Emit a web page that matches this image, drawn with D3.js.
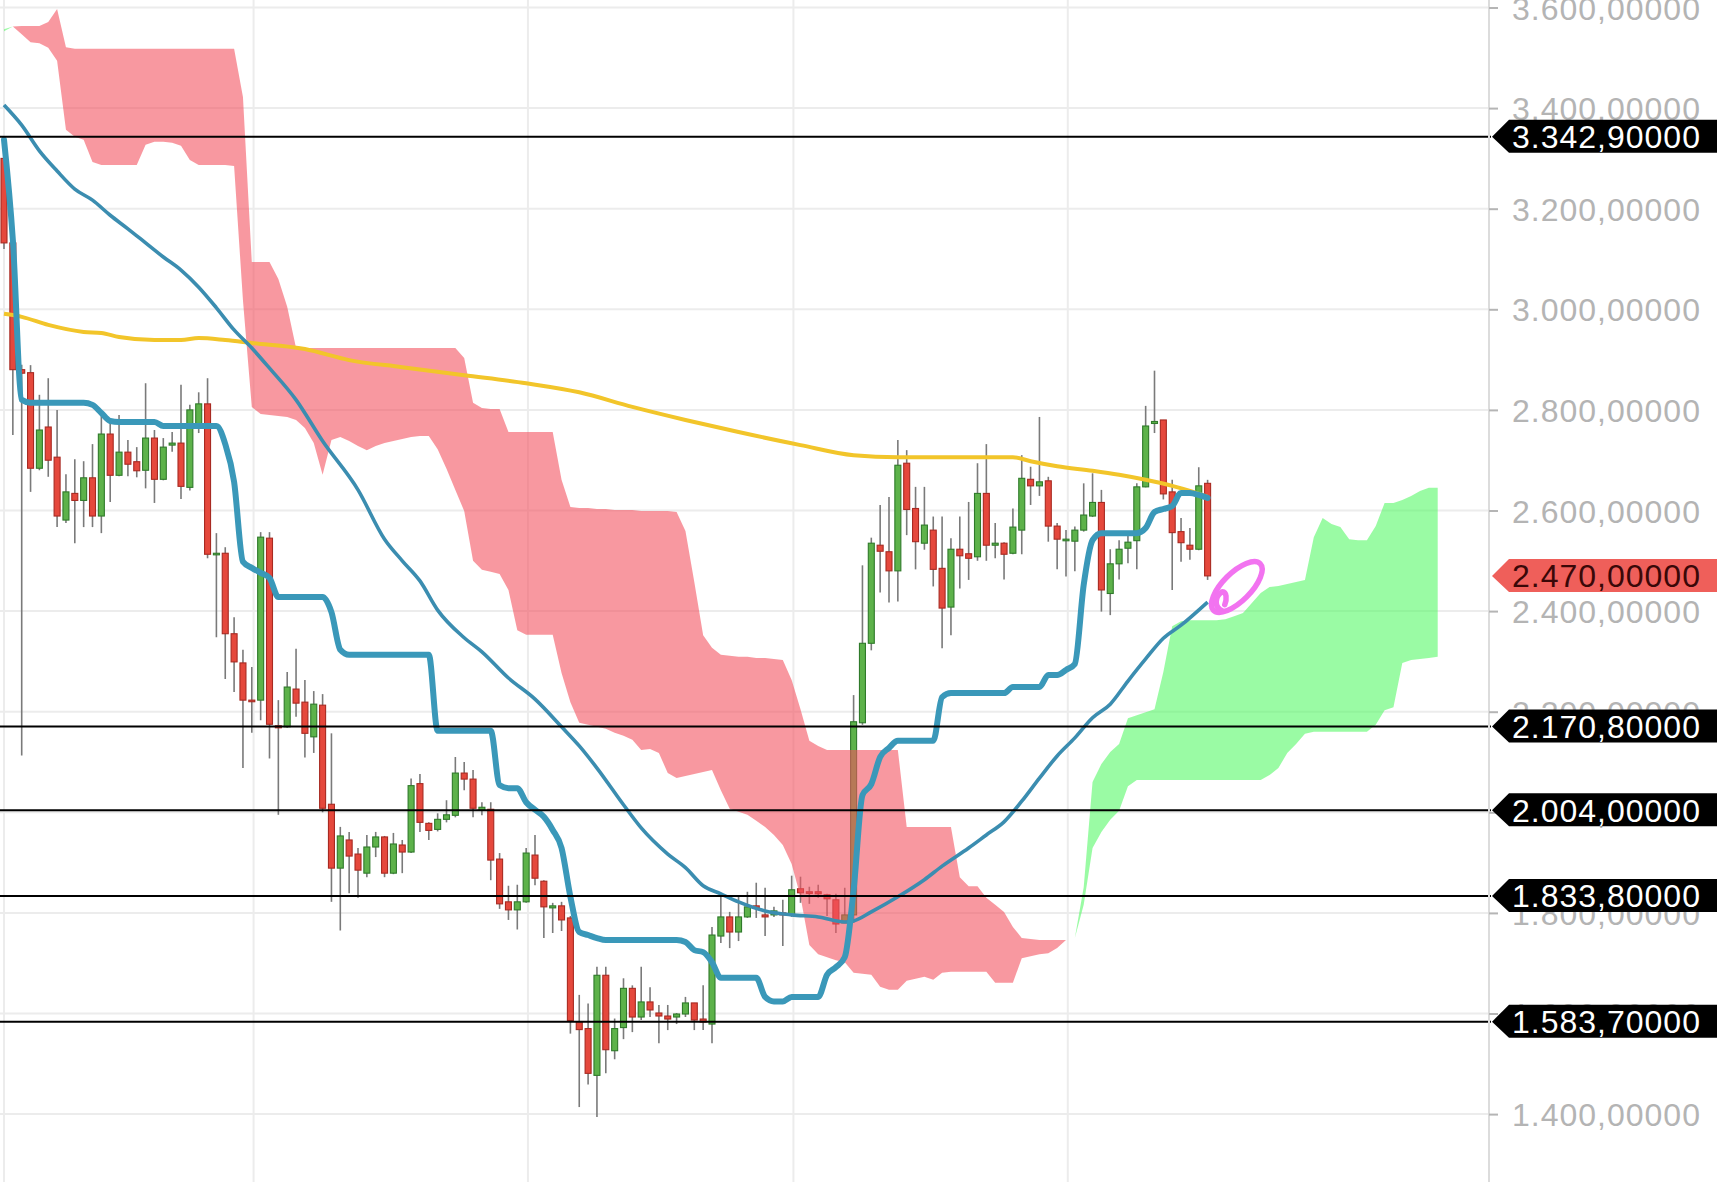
<!DOCTYPE html>
<html><head><meta charset="utf-8">
<script src="https://cdn.jsdelivr.net/npm/d3@7"></script>
<style>
html,body{margin:0;padding:0;background:#fff;}
svg{display:block;}
text{font-family:"Liberation Sans",Arial,Helvetica,sans-serif;}
</style></head><body>
<svg id="c" width="1717" height="1182"></svg>
<script>
// ---------- DATA (daily candles, index 0..136) ----------
const openPrices = [
3300,3132,2880,2874,2684,2766,2706,2581,2634,2620,
2665,2589,2752,2670,2716,2697,2680,2744,2662,2730,
2734,2646,2770,2812,2513,2515,2355,2297,2223,2223,
2545,2172,2170,2245,2219,2150,2213,2016,1889,1945,
1917,1879,1931,1951,1879,1935,1921,2057,1978,1966,
1986,1994,2078,2066,2004,2006,1907,1822,1806,1822,
1915,1863,1810,1814,1790,1584,1570,1477,1676,1526,
1572,1650,1593,1623,1601,1595,1593,1599,1621,1589,
1579,1754,1792,1762,1792,1814,1796,1796,1800,1796,
1848,1842,1842,1836,1826,1780,1796,2178,2336,2531,
2518,2480,2694,2604,2535,2561,2485,2408,2523,2514,
2508,2634,2531,2535,2515,2561,2662,2649,2659,2569,
2541,2539,2561,2589,2616,2435,2494,2525,2540,2647,
2773,2780,2637,2558,2531,2523,2654];
const highPrices = [
3343,3140,2890,2889,2830,2863,2800,2672,2702,2698,
2732,2790,2780,2790,2740,2726,2853,2760,2744,2756,
2850,2810,2835,2863,2555,2527,2388,2323,2289,2557,
2557,2223,2279,2325,2263,2241,2235,2157,1971,1961,
1929,1955,1961,1953,1959,1945,2067,2076,1980,1998,
2024,2110,2100,2084,2020,2020,1919,1854,1856,1929,
1955,1865,1820,1822,1794,1637,1620,1693,1693,1590,
1670,1656,1693,1652,1617,1617,1601,1633,1621,1656,
1772,1840,1802,1832,1842,1860,1850,1812,1826,1874,
1872,1852,1856,1838,1838,1850,2233,2491,2546,2611,
2627,2740,2720,2647,2647,2588,2588,2545,2588,2617,
2694,2732,2575,2537,2604,2710,2687,2786,2667,2575,
2561,2568,2654,2674,2641,2523,2541,2558,2654,2808,
2878,2780,2661,2585,2565,2686,2661];
const lowPrices = [
3120,2750,2113,2637,2680,2667,2567,2575,2535,2567,
2567,2555,2617,2668,2668,2666,2644,2615,2660,2717,
2623,2640,2754,2505,2348,2265,2239,2088,2158,2183,
2107,1995,2168,2190,2109,2118,2000,1822,1765,1839,
1830,1871,1911,1871,1877,1879,1919,1961,1945,1962,
1980,1990,2044,1990,1994,1865,1808,1786,1767,1820,
1855,1750,1760,1764,1560,1414,1459,1394,1481,1509,
1549,1563,1587,1593,1541,1567,1579,1593,1567,1567,
1541,1740,1730,1744,1790,1790,1754,1792,1734,1792,
1820,1818,1830,1794,1760,1780,1780,2174,2322,2437,
2417,2419,2551,2483,2522,2449,2326,2352,2445,2462,
2500,2500,2505,2463,2513,2513,2611,2629,2538,2483,
2469,2479,2558,2587,2399,2392,2463,2495,2483,2646,
2754,2622,2442,2498,2502,2521,2462];
const closePrices = [
3132,2880,2873,2684,2760,2700,2589,2637,2620,2665,
2589,2752,2670,2716,2692,2679,2744,2662,2726,2734,
2648,2800,2812,2513,2515,2355,2299,2223,2221,2547,
2175,2168,2249,2217,2157,2215,2008,1889,1953,1913,
1885,1931,1951,1879,1937,1921,2053,1980,1964,1986,
1995,2078,2066,2008,2010,1905,1818,1806,1822,1919,
1869,1812,1814,1786,1586,1568,1481,1676,1528,1570,
1650,1593,1623,1607,1595,1589,1599,1621,1587,1583,
1756,1792,1762,1792,1812,1810,1792,1804,1796,1846,
1840,1840,1838,1828,1778,1796,2180,2336,2535,2519,
2480,2690,2602,2538,2571,2483,2406,2523,2510,2505,
2634,2531,2535,2513,2567,2664,2649,2657,2569,2543,
2543,2561,2591,2616,2442,2494,2523,2537,2647,2768,
2777,2633,2556,2536,2523,2649,2470];

// Kijun-sen (thick blue), one value per candle
const kijun = [
3337,3138,2820,2814,2814,2814,2814,2814,2814,2814,
2810,2794,2778,2776,2776,2776,2776,2776,2768,2768,
2768,2768,2768,2768,2768,2732,2657,2498,2486,2476,
2466,2428,2428,2428,2428,2428,2428,2398,2323,2313,
2313,2313,2313,2313,2313,2313,2313,2313,2313,2162,
2162,2162,2162,2162,2162,2162,2054,2048,2048,2020,
2005,1991,1965,1929,1832,1762,1756,1750,1746,1746,
1746,1746,1746,1746,1746,1746,1746,1742,1726,1722,
1702,1671,1671,1671,1671,1671,1633,1624,1624,1633,
1633,1633,1633,1677,1692,1712,1845,2034,2056,2110,
2128,2142,2142,2142,2142,2142,2229,2237,2237,2237,
2237,2237,2237,2237,2249,2249,2249,2249,2273,2273,
2283,2295,2452,2541,2555,2555,2555,2555,2555,2565,
2597,2603,2609,2635,2635,2631,2625];

// Moving average (thin blue) read at [candle index, price]
const maFast = [[0,3406],[2,3366],[4,3315],[6,3275],[8,3239],[10,3217],[12,3187],[14,3160],[16,3132],[18,3104],
[20,3078],[22,3044],[24,3003],[26,2959],[28,2923],[30,2883],[33,2820],[36,2738],[40,2641],[43,2543],
[45,2500],[47,2460],[49,2402],[52,2347],[54,2319],[57,2267],[60,2225],[63,2170],[65,2132],[67,2088],
[70,2015],[72,1969],[75,1917],[77,1890],[79,1854],[81,1838],[83,1822],[86,1804],[89,1796],[92,1792],
[95,1782],[96,1784],[98,1802],[101,1832],[104,1866],[106,1893],[109,1929],[111,1955],[113,1981],[115,2022],
[117,2068],[119,2112],[121,2148],[123,2188],[125,2215],[127,2261],[129,2305],[131,2346],[133,2372],[136,2418]];

// Moving average (yellow) read at [candle index, price]
const maSlow = [[0,2991],[2,2985],[5,2969],[9,2955],[11,2953],[13,2945],[17,2939],[20,2939],[22,2943],[25,2939],
[28,2933],[34,2921],[39,2899],[45,2885],[52,2869],[59,2853],[65,2835],[71,2806],[77,2780],[83,2756],
[90,2730],[96,2710],[101,2706],[107,2706],[114,2706],[116,2698],[119,2688],[123,2679],[126,2671],[129,2661],
[132,2649],[134,2639],[136,2627]];

// Ichimoku cloud spans (index 0..162, shifted 26 ahead)
const spanA = [
3557,3562,3547,3531,3529,3520,3494,3357,3343,3337,
3293,3287,3287,3287,3287,3287,3327,3333,3333,3331,
3325,3297,3287,3287,3287,3287,3285,3018,2806,2792,
2790,2788,2786,2780,2764,2734,2671,2740,2746,2738,
2728,2720,2728,2734,2738,2742,2746,2748,2748,2722,
2683,2641,2599,2500,2482,2478,2474,2442,2362,2353,
2353,2353,2353,2277,2219,2178,2174,2170,2166,2158,
2152,2144,2124,2126,2118,2078,2068,2072,2076,2080,
2084,2044,2007,2001,1995,1983,1971,1955,1935,1897,
1832,1736,1718,1712,1706,1702,1681,1679,1677,1653,
1647,1647,1665,1669,1673,1667,1681,1683,1683,1683,
1683,1683,1661,1661,1661,1710,1714,1718,1720,1730,
1746,1750,1851,2060,2096,2120,2136,2187,2193,2199,
2205,2279,2370,2380,2382,2382,2382,2382,2384,2390,
2396,2416,2436,2448,2450,2454,2458,2462,2547,2585,
2573,2567,2543,2541,2541,2569,2615,2615,2621,2629,
2639,2645,2645];
const spanB = [
3553,3562,3563,3563,3563,3571,3597,3521,3518,3518,
3518,3518,3518,3518,3518,3518,3518,3518,3518,3518,
3518,3518,3518,3518,3518,3518,3518,3422,3094,3094,
3094,3060,3005,2923,2923,2923,2923,2923,2923,2923,
2923,2923,2923,2923,2923,2923,2923,2923,2923,2923,
2923,2923,2903,2814,2804,2802,2802,2756,2756,2756,
2756,2756,2756,2661,2607,2605,2605,2603,2603,2601,
2601,2601,2599,2599,2599,2599,2597,2559,2458,2352,
2327,2313,2311,2309,2309,2307,2307,2305,2303,2263,
2205,2142,2132,2124,2124,2124,2124,2124,2124,2124,
2124,2124,1971,1971,1971,1971,1971,1971,1871,1853,
1853,1830,1816,1802,1772,1750,1748,1746,1746,1746,
1746,1750,1816,1929,1961,1985,2003,2052,2064,2064,
2064,2064,2064,2064,2064,2064,2064,2064,2064,2064,
2064,2064,2064,2074,2088,2118,2136,2156,2160,2160,
2160,2160,2160,2160,2160,2174,2203,2209,2297,2303,
2305,2307,2309];

// Horizontal levels and axis ticks
const levels = [3342.9, 2170.8, 2004.0, 1833.8, 1583.7];
const priceTicks = [1400,1600,1800,2000,2200,2400,2600,2800,3000,3200,3400,3600];
const monthGridIdx = [0.0, 28.2, 59.2, 89.2, 120.2];
const noteAt = [139.3, 2448];

// ---------- DRAW ----------
const W = 1717, H = 1182, axisX = 1489;
const svg = d3.select('#c');
const x = d3.scaleLinear().domain([0, 162]).range([4, 1437.7]);
const y = d3.scaleLinear().domain([1400, 3600]).range([1114.1, 7.5]);
const loc = d3.formatLocale({decimal: ",", thousands: ".", grouping: [3], currency: ["", ""]});
const fmt = loc.format(",.5f");

const grid = svg.append('g');
grid.selectAll('line.h').data(priceTicks).join('line')
  .attr('x1', 0).attr('x2', axisX).attr('y1', d => y(d)).attr('y2', d => y(d))
  .attr('stroke', '#ececec').attr('stroke-width', 2);
grid.selectAll('line.v').data(monthGridIdx).join('line')
  .attr('x1', d => x(d)).attr('x2', d => x(d)).attr('y1', 0).attr('y2', H)
  .attr('stroke', '#ececec').attr('stroke-width', 2);

// candles
const n = closePrices.length;
const idx = d3.range(n);
const cg = svg.append('g');
cg.selectAll('line.w').data(idx).join('line')
  .attr('x1', i => x(i)).attr('x2', i => x(i))
  .attr('y1', i => y(highPrices[i])).attr('y2', i => y(lowPrices[i]))
  .attr('stroke', '#7a7a7a').attr('stroke-width', 1.6);
cg.selectAll('rect').data(idx).join('rect')
  .attr('x', i => x(i) - 3).attr('width', 6)
  .attr('y', i => y(Math.max(openPrices[i], closePrices[i])))
  .attr('height', i => Math.max(1.6, Math.abs(y(openPrices[i]) - y(closePrices[i]))))
  .attr('fill', i => closePrices[i] >= openPrices[i] ? '#5db24a' : '#e5483c')
  .attr('stroke', i => closePrices[i] >= openPrices[i] ? '#2f7a2a' : '#a82a22')
  .attr('stroke-width', 1.1);

// cloud
const N = spanA.length;
const segs = [];
for (let i = 0; i < N - 1; i++) {
  const d = (spanA[i] - spanB[i]) + (spanA[i + 1] - spanB[i + 1]);
  const t = d >= 0 ? 'bull' : 'bear';
  const last = segs[segs.length - 1];
  if (last && last.t === t && last.e === i) last.e = i + 1;
  else segs.push({t, s: i, e: i + 1});
}
const area = d3.area().x(i => x(i)).y0(i => y(spanA[i])).y1(i => y(spanB[i]));
svg.append('g').selectAll('path').data(segs).join('path')
  .attr('d', s => area(d3.range(s.s, s.e + 1)))
  .attr('fill', s => s.t === 'bull' ? 'rgb(87,248,103)' : 'rgb(243,83,97)')
  .attr('fill-opacity', 0.6);

// slow MA (yellow)
svg.append('path').datum(maSlow)
  .attr('d', d3.line().x(d => x(d[0])).y(d => y(d[1])).curve(d3.curveMonotoneX))
  .attr('fill', 'none').attr('stroke', '#f2c52a').attr('stroke-width', 4);

// fast MA (thin blue)
svg.append('path').datum(maFast)
  .attr('d', d3.line().x(d => x(d[0])).y(d => y(d[1])).curve(d3.curveMonotoneX))
  .attr('fill', 'none').attr('stroke', '#3b8db0').attr('stroke-width', 3.6)
  .attr('stroke-linejoin', 'round');

// kijun (thick blue)
svg.append('path').datum(kijun)
  .attr('d', d3.line().x((d, i) => x(i)).y(d => y(d)).curve(d3.curveMonotoneX))
  .attr('fill', 'none').attr('stroke', '#3a98b9').attr('stroke-width', 6)
  .attr('stroke-linejoin', 'round').attr('stroke-linecap', 'round');

// horizontal levels
svg.append('g').selectAll('line').data(levels).join('line')
  .attr('x1', 0).attr('x2', axisX + 2).attr('y1', d => y(d)).attr('y2', d => y(d))
  .attr('stroke', '#000').attr('stroke-width', 2);

// hand-drawn annotation
const ng = svg.append('g')
  .attr('transform', `translate(${x(noteAt[0])},${y(noteAt[1])}) rotate(-45)`)
  .attr('fill', 'none').attr('stroke', '#f26cf0').attr('stroke-width', 5.5)
  .attr('stroke-linecap', 'round').attr('opacity', 0.95);
ng.append('ellipse').attr('rx', 33).attr('ry', 14);
ng.append('path').attr('d', 'M-27,7 C-31,-2 -22,-9 -14,-7 C-10,-4 -16,2 -21,4');

// right axis
svg.append('line').attr('x1', axisX).attr('x2', axisX).attr('y1', 0).attr('y2', H)
  .attr('stroke', '#dcdcdc').attr('stroke-width', 2);
const ax = svg.append('g').attr('transform', `translate(${axisX},0)`)
  .call(d3.axisRight(y).tickValues(priceTicks).tickFormat(fmt).tickSize(9).tickSizeOuter(0).tickPadding(14));
ax.select('.domain').remove();
ax.selectAll('.tick line').attr('stroke', '#b5b5b5').attr('stroke-width', 2);
ax.selectAll('.tick text').attr('fill', '#b4b4b4').style('font-size', '32px')
  .style('letter-spacing', '1px').attr('dy', '0.36em');

// price tags
function tag(v, fill, color) {
  const yy = y(v);
  const g = svg.append('g');
  g.append('path')
    .attr('d', `M${axisX + 3},${yy} L${axisX + 20},${yy - 17} L${W},${yy - 17} L${W},${yy + 16} L${axisX + 20},${yy + 16} Z`)
    .attr('fill', fill);
  g.append('text').attr('x', axisX + 23).attr('y', yy).attr('dy', '0.36em')
    .attr('fill', color).style('font-size', '32px').style('letter-spacing', '1px')
    .text(fmt(v));
}
levels.forEach(v => tag(v, '#000', '#fff'));
tag(closePrices[n - 1], '#ef5f5a', '#3a0808');
</script>
</body></html>
